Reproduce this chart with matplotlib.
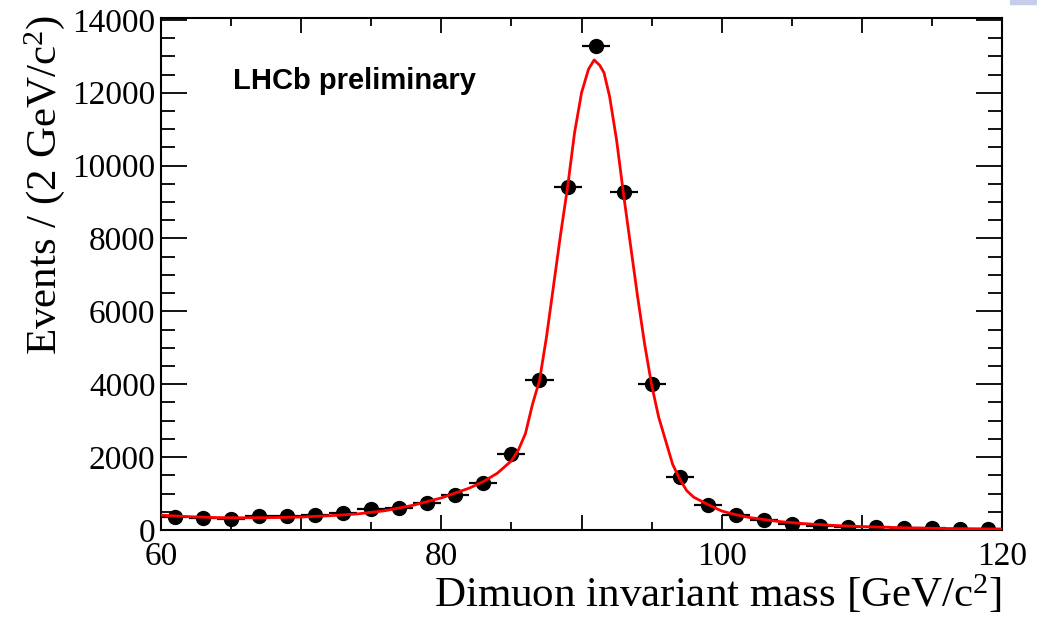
import numpy as np
import matplotlib
matplotlib.use("Agg")
import matplotlib.pyplot as plt
from matplotlib.ticker import MultipleLocator, FuncFormatter

plt.rcParams["font.family"] = ["Liberation Serif", "DejaVu Serif"]
plt.rcParams["mathtext.fontset"] = "custom"
plt.rcParams["mathtext.rm"] = "Liberation Serif"
plt.rcParams["mathtext.it"] = "Liberation Serif:italic"

# dimuon mass histogram, 2 GeV bins
bin_centers = [61, 63, 65, 67, 69, 71, 73, 75, 77, 79, 81, 83, 85, 87, 89,
               91, 93, 95, 97, 99, 101, 103, 105, 107, 109, 111, 113, 115, 117, 119]
counts = [350, 320, 300, 380, 380, 410, 455, 565, 615, 730, 960, 1280, 2080, 4110, 9420,
          13270, 9280, 4010, 1460, 690, 410, 270, 165, 120, 90, 70, 55, 45, 40, 30]
bin_half_width = 1.0

# fitted line shape (signal + background)
fit_x = [60, 62, 64, 66, 68, 70, 72, 74, 76, 78, 80, 82, 83, 84, 85, 85.5, 86, 86.5,
         87, 87.5, 88, 88.5, 89, 89.5, 90, 90.5, 90.9, 91.3, 91.6, 92, 92.5, 93, 93.5,
         94, 94.5, 95, 95.5, 96, 96.5, 97, 97.5, 98, 99, 100, 101, 102, 104, 106, 108,
         110, 113, 116, 120]
fit_y = [405, 365, 340, 335, 340, 355, 390, 440, 530, 680, 880, 1150, 1330, 1560, 1900,
         2200, 2650, 3450, 4100, 5300, 6700, 8100, 9400, 10900, 12000, 12650, 12900,
         12750, 12550, 11900, 10700, 9200, 7800, 6400, 5100, 3980, 3100, 2450, 1800,
         1400, 1080, 900, 700, 520, 420, 340, 235, 170, 125, 92, 60, 40, 25]

fig = plt.figure(figsize=(10.37, 6.26), dpi=100)
ax = fig.add_axes([0.1553, 0.1534, 0.811, 0.8178])

ax.errorbar(bin_centers, counts, xerr=bin_half_width, yerr=np.sqrt(counts),
            fmt="o", color="black", ms=10, elinewidth=1.6, capsize=0, zorder=3)
ax.plot(fit_x, fit_y, color="#ff0000", lw=2.0, zorder=4)

ax.set_xlim(60, 120)
ax.set_ylim(0, 14050)

ax.xaxis.set_major_locator(MultipleLocator(10))
ax.xaxis.set_minor_locator(MultipleLocator(5))
ax.xaxis.set_major_formatter(FuncFormatter(lambda v, p: f"{v:.0f}" if v % 20 == 0 else ""))
ax.yaxis.set_major_locator(MultipleLocator(2000))
ax.yaxis.set_minor_locator(MultipleLocator(500))

ax.tick_params(which="both", direction="in", top=True, right=True, width=1.3,
               labelsize=24, color="black")
ax.tick_params(axis="y", which="major", length=19, pad=4)
ax.tick_params(axis="y", which="minor", length=10)
ax.tick_params(axis="x", which="major", length=11, pad=8)
ax.tick_params(axis="x", which="minor", length=6)
for s in ax.spines.values():
    s.set_linewidth(1.5)

ax.set_xlabel("Dimuon invariant mass [GeV/c$^{2}$]", fontsize=31, ha="right")
ax.xaxis.set_label_coords(1.0, -0.085)
ax.set_ylabel("Events / (2 GeV/c$^{2}$)", fontsize=31, ha="right")
ax.yaxis.set_label_coords(-0.112, 1.006)

ax.text(65.1, 12100, "LHCb preliminary", family=["Liberation Sans", "DejaVu Sans"],
        fontweight="bold", fontsize=21, va="baseline")

# small slide decoration in the corner
fig.patches.append(plt.Rectangle((0.974, 0.993), 0.026, 0.007, transform=fig.transFigure,
                                 color="#c5cdea", zorder=0))

fig.savefig("out.png", dpi=100)
